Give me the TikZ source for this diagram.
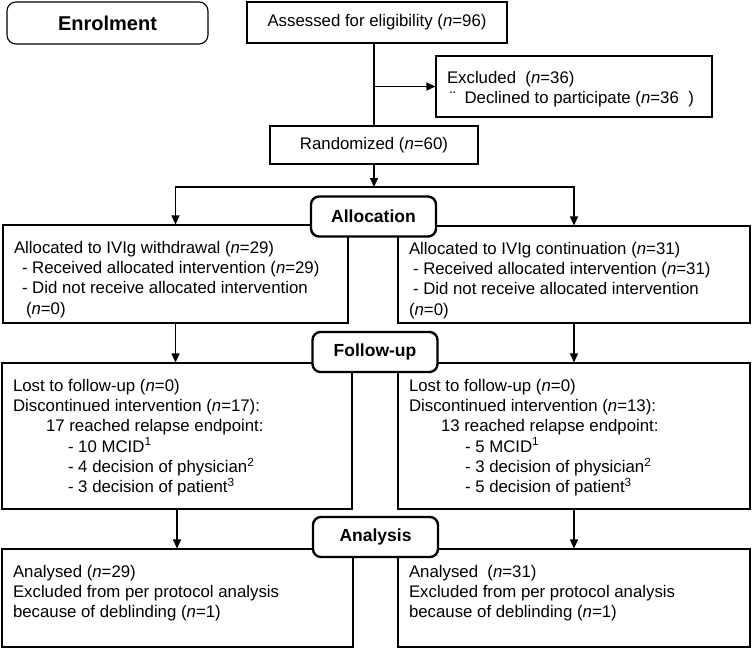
\documentclass[tikz,border=0pt]{standalone}
\usepackage{fontspec}
\setmainfont{Liberation Sans}
\usetikzlibrary{arrows.meta}
\newcommand{\nn}[1]{(\textit{n}=#1)}
% text block of a box: height, width, lines (top aligned)
\newcommand{\cell}[3]{\parbox[c][#1][t]{#2}{\raggedright\rule{0pt}{17.5pt}#3}}
\tikzset{
  box/.style={draw, line width=1.1pt, inner sep=0pt, align=center, font=\fontsize{16.8}{20.2}\selectfont},
  txtbox/.style={draw, line width=1.1pt, inner xsep=11pt, inner ysep=11pt, font=\fontsize{16.8}{20.2}\selectfont},
  stage/.style={draw, fill=white, rounded corners=8pt, line width=2.4pt, minimum width=125pt, minimum height=40pt, font=\fontsize{17.5}{20}\selectfont\bfseries},
  arr/.style={-{Triangle[length=9pt,width=8pt]}, line width=1.1pt}
}
\begin{document}
\begin{tikzpicture}[x=1pt,y=-1pt]
\useasboundingbox (0,0) rectangle (752,649);
% enrolment
\node[draw, rounded corners=9pt, line width=1.1pt, minimum width=201pt, minimum height=42pt, font=\fontsize{20}{24}\selectfont\bfseries] (enrol) at (107.5,23) {Enrolment};
\node[box, minimum width=260pt, minimum height=41pt] (assess) at (377,22.5) {Assessed for eligibility \nn{96}};
\node[txtbox, inner ysep=10pt] (excl) at (574,86.5) {\cell{41pt}{254pt}{Excluded\ \ \nn{36}\\\hspace*{3pt}¨\hspace{9pt}Declined to participate (\textit{n}=36\ \ )}};
\node[box, minimum width=208pt, minimum height=38pt] (rand) at (374,145) {Randomized \nn{60}};
% allocation
\node[txtbox] (allocL) at (175.5,274) {\cell{76pt}{323pt}{Allocated to IVIg withdrawal \nn{29}\\\hspace*{8pt}- Received allocated intervention \nn{29}\\\hspace*{8pt}- Did not receive allocated intervention\\\hspace*{12pt}\nn{0}}};
\node[txtbox] (allocR) at (574,274.5) {\cell{75pt}{330pt}{Allocated to IVIg continuation \nn{31}\\\hspace*{4pt}- Received allocated intervention \nn{31}\\\hspace*{4pt}- Did not receive allocated intervention\\\nn{0}}};
% follow-up
\node[txtbox] (folL) at (177,436) {\cell{124pt}{328pt}{Lost to follow-up \nn{0}\\Discontinued intervention \nn{17}:\\\hspace*{33pt}17 reached relapse endpoint:\\\hspace*{55pt}- 10 MCID\textsuperscript{1}\\\hspace*{55pt}- 4 decision of physician\textsuperscript{2}\\\hspace*{55pt}- 3 decision of patient\textsuperscript{3}}};
\node[txtbox] (folR) at (574,436) {\cell{124pt}{330pt}{Lost to follow-up \nn{0}\\Discontinued intervention \nn{13}:\\\hspace*{32pt}13 reached relapse endpoint:\\\hspace*{56pt}- 5 MCID\textsuperscript{1}\\\hspace*{56pt}- 3 decision of physician\textsuperscript{2}\\\hspace*{56pt}- 5 decision of patient\textsuperscript{3}}};
% analysis
\node[txtbox] (anaL) at (177.5,598) {\cell{76pt}{329pt}{Analysed \nn{29}\\Excluded from per protocol analysis\\because of deblinding \nn{1}}};
\node[txtbox] (anaR) at (574,598) {\cell{76pt}{330pt}{Analysed\ \ \nn{31}\\Excluded from per protocol analysis\\because of deblinding \nn{1}}};
% connectors
\coordinate (split) at (374,187);
\draw[line width=1.1pt] (rand.north |- assess.south) -- (rand.north);
\draw[arr] (rand.north |- excl.west) -- (excl.west);
\draw[arr] (rand.south) -- (split);
\draw[arr] (split) -| (allocL.north);
\draw[arr] (split) -| (allocR.north);
\draw[arr] (allocL.south) -- (allocL.south |- folL.north);
\draw[arr] (allocR.south) -- (allocR.south |- folR.north);
\draw[arr] (folL.south) -- (folL.south |- anaL.north);
\draw[arr] (folR.south) -- (folR.south |- anaR.north);
% stage labels
\node[stage] (allocS) at (373.5,216.5) {Allocation};
\node[stage] (folS) at (375,352) {Follow-up};
\node[stage] (anaS) at (375.5,537) {Analysis};
\end{tikzpicture}
\end{document}
